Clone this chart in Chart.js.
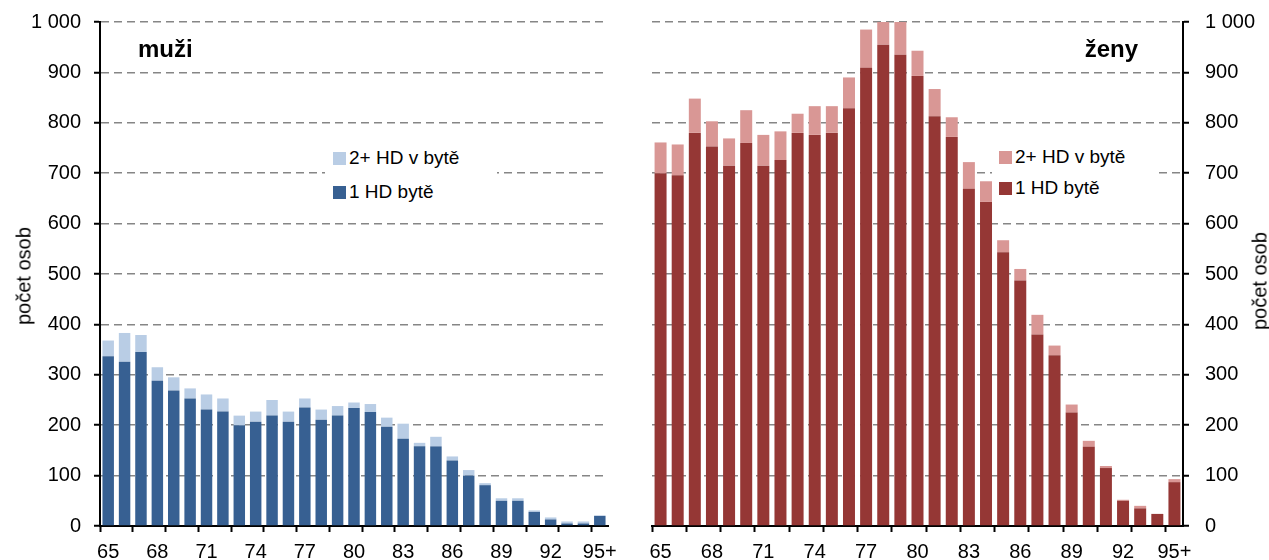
<!DOCTYPE html>
<html lang="cs">
<head>
    <meta charset="UTF-8">
    <title>Počet osob podle věku – muži a ženy</title>
    <script src="https://cdn.jsdelivr.net/npm/chart.js"></script>
    <style>
        body { margin: 0; background: #fff; font-family: "Liberation Sans", Arial, sans-serif; }
        .wrap { position: relative; width: 1269px; height: 560px; }
        canvas { position: absolute; top: 0; }
        .panel-title { position: absolute; font-weight: bold; font-size: 24px; line-height: 24px; color: #000; }
        .legend { position: absolute; background: #fff; }
        .legend .row { position: absolute; display: flex; align-items: center; font-size: 19px; line-height: 18px; white-space: nowrap; }
        .legend .box { width: 13px; height: 13px; margin-right: 3px; }
        .axis-title { position: absolute; font-size: 20px; white-space: nowrap; transform: translate(-50%, -50%) rotate(-90deg); }
    </style>
</head>
<body>
    <div class="wrap">
        <canvas id="muziChart" width="630" height="560" style="left:0"></canvas>
        <canvas id="zenyChart" width="639" height="560" style="left:630px"></canvas>

        <div class="axis-title" style="left:24px; top:276px;">počet osob</div>
        <div class="axis-title" style="left:1260px; top:281px;">počet osob</div>

        <div class="panel-title" style="left:138px; top:37px;">muži</div>
        <div class="panel-title" style="right:131px; top:37px;">ženy</div>

        <!-- legenda muži -->
        <div class="legend" style="left:325px; top:140px; width:172px; height:67px;">
            <div class="row" style="left:8px; top:9px;"><span class="box" style="background:#B9CDE5"></span>2+ HD v bytě</div>
            <div class="row" style="left:8px; top:43px;"><span class="box" style="background:#376092"></span>1 HD bytě</div>
        </div>
        <!-- legenda ženy -->
        <div class="legend" style="left:992px; top:138px; width:166px; height:66px;">
            <div class="row" style="left:7px; top:10px;"><span class="box" style="background:#D99795"></span>2+ HD v bytě</div>
            <div class="row" style="left:7px; top:41px;"><span class="box" style="background:#953735"></span>1 HD bytě</div>
        </div>
    </div>

    <script>
        // vekove skupiny
        const ages = ['65','66','67','68','69','70','71','72','73','74','75','76','77','78','79','80',
                      '81','82','83','84','85','86','87','88','89','90','91','92','93','94','95+'];
        const yTicks = [0, 100, 200, 300, 400, 500, 600, 700, 800, 900, 1000];

        // muzi
        const muziJedenHD = [337,326,345,288,269,253,231,227,200,207,219,207,235,211,219,234,
                             226,197,173,158,158,130,100,81,50,50,28,13,5,5,20];
        const muziDvaPlusHD = [31,57,34,27,26,20,30,26,19,20,31,20,18,20,19,11,
                               16,18,30,7,19,8,11,4,5,5,3,4,4,4,1];

        // zeny
        const zenyJedenHD = [700,696,780,753,715,760,715,726,780,776,780,829,909,955,935,893,
                             813,772,669,643,543,487,380,339,225,157,115,50,35,24,87];
        const zenyDvaPlusHD = [61,61,68,50,54,65,61,57,38,57,53,61,76,45,65,50,
                               54,39,53,41,24,23,39,19,16,12,4,2,5,0,6];

        const font = { family: '"Liberation Sans", Arial, sans-serif', size: 20 };

        function makeChart(id, jeden, dvaPlus, dark, light, side) {
            const left = side === 'left';
            return new Chart(document.getElementById(id), {
                type: 'bar',
                data: {
                    labels: ages,
                    datasets: [
                        { label: '1 HD bytě', data: jeden, backgroundColor: dark, barPercentage: 0.7, categoryPercentage: 1 },
                        { label: '2+ HD v bytě', data: dvaPlus, backgroundColor: light, barPercentage: 0.7, categoryPercentage: 1 }
                    ]
                },
                options: {
                    responsive: false,
                    animation: false,
                    layout: { padding: left ? { left: 0, right: 22, top: 22, bottom: 0 } : { left: 22, right: 0, top: 22, bottom: 0 } },
                    plugins: { legend: { display: false }, tooltip: { enabled: false } },
                    scales: {
                        x: {
                            stacked: true,
                            afterFit: s => { s.height = 34; },
                            grid: {
                                drawOnChartArea: false,
                                tickLength: 6,
                                tickWidth: 2,
                                tickColor: ctx => (ctx.index !== undefined && ctx.index % 2 === 0) ? '#000' : 'rgba(0,0,0,0)'
                            },
                            border: { color: '#000', width: 2 },
                            ticks: {
                                autoSkip: false,
                                maxRotation: 0,
                                padding: 8,
                                color: '#000',
                                font: font,
                                callback: (v, i) => i % 3 === 0 ? ages[i] : ''
                            }
                        },
                        y: {
                            stacked: true,
                            position: side,
                            min: 0,
                            max: 1000,
                            afterFit: s => { s.width = left ? 100 : 86; },
                            afterBuildTicks: s => { s.ticks = yTicks.map(v => ({ value: v })); },
                            grid: {
                                color: ctx => ctx.tick && ctx.tick.value === 0 ? 'rgba(0,0,0,0)' : '#868686',
                                lineWidth: 1.5,
                                tickColor: '#000',
                                tickLength: 6,
                                tickWidth: 2
                            },
                            border: { color: '#000', width: 2, dash: [8, 5] },
                            ticks: {
                                padding: left ? 13 : 16,
                                color: '#000',
                                // small lineHeight so the label padding does not push the plot top down
                                font: Object.assign({}, font, { lineHeight: 0.5 }),
                                callback: v => v >= 1000 ? String(v).replace(/(\d)(\d{3})$/, '$1 $2') : v
                            }
                        }
                    }
                }
            });
        }

        makeChart('muziChart', muziJedenHD, muziDvaPlusHD, '#376092', '#B9CDE5', 'left');
        makeChart('zenyChart', zenyJedenHD, zenyDvaPlusHD, '#953735', '#D99795', 'right');
    </script>
</body>
</html>
